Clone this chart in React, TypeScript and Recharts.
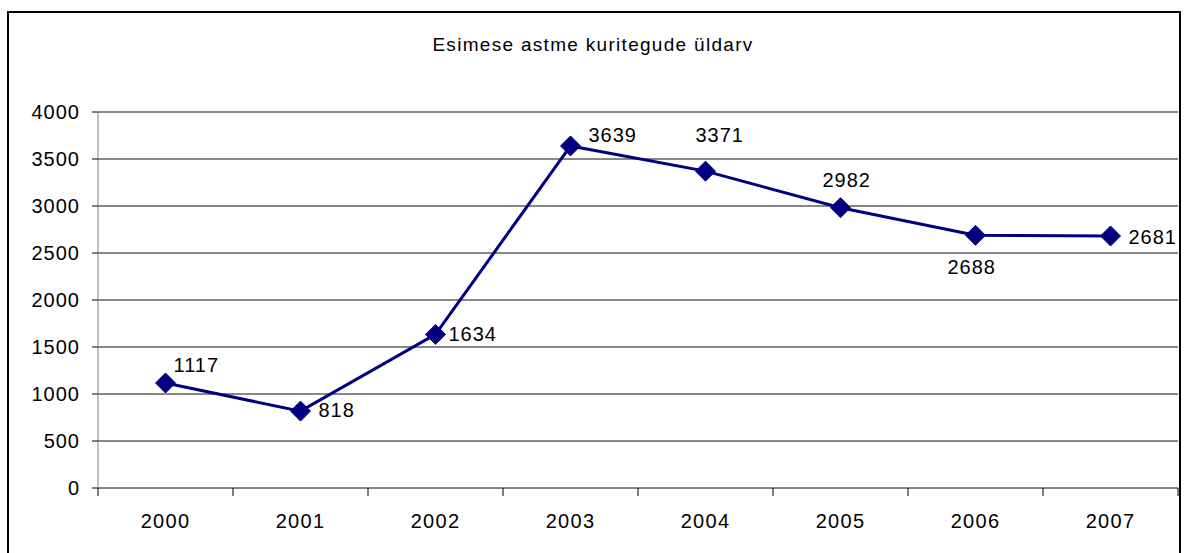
import { LineChart, Line, XAxis, YAxis, CartesianGrid, LabelList } from 'recharts';

const years = ['2000', '2001', '2002', '2003', '2004', '2005', '2006', '2007'];
const crimes = [1117, 818, 1634, 3639, 3371, 2982, 2688, 2681];
const yTicks = [0, 500, 1000, 1500, 2000, 2500, 3000, 3500, 4000];

const data = years.map((year, i) => ({ year, value: crimes[i] }));

// where each value label sits relative to its marker (text start, baseline)
const labelOffsets = [
  [8, -11],
  [18, 6],
  [13, 7],
  [18, -4],
  [-10, -29],
  [-18, -21],
  [-28, 39],
  [18, 8],
];

const FONT = '"Liberation Sans", Arial, sans-serif';
const NAVY = '#000080';

const Diamond = (props: any) => {
  const { cx, cy, index } = props;
  const r = 10;
  return (
    <polygon
      key={`dot-${index}`}
      points={`${cx},${cy - r} ${cx + r},${cy} ${cx},${cy + r} ${cx - r},${cy}`}
      fill={NAVY}
      stroke={NAVY}
    />
  );
};

const YearTick = (props: any) => {
  const { x, y, payload, index, width, visibleTicksCount } = props;
  const band = width / visibleTicksCount;
  return (
    <g>
      <line x1={x - band / 2} y1={y} x2={x - band / 2} y2={y + 8} stroke="#000" />
      {index === visibleTicksCount - 1 && (
        <line x1={x + band / 2} y1={y} x2={x + band / 2} y2={y + 8} stroke="#000" />
      )}
      <text x={x} y={y + 40} textAnchor="middle" fontSize={20} letterSpacing={1.3} fill="#000" fontFamily={FONT}>
        {payload.value}
      </text>
    </g>
  );
};

const ValueLabel = (props: any) => {
  const { x, y, value, index } = props;
  const [dx, dy] = labelOffsets[index] || [10, -10];
  return (
    <text x={x + dx} y={y + dy} fontSize={20} letterSpacing={1} fill="#000" fontFamily={FONT}>
      {value}
    </text>
  );
};

export default function App() {
  return (
    <div style={{ position: 'absolute', left: 0, top: 0, width: 1185, height: 553, background: '#fff', overflow: 'hidden', fontFamily: FONT }}>
      <div
        style={{
          position: 'absolute',
          left: 7,
          top: 11,
          width: 1170,
          height: 560,
          border: '2px solid #000',
        }}
      />
      <div
        style={{
          position: 'absolute',
          left: 8,
          top: 34,
          width: 1170,
          textAlign: 'center',
          fontSize: 19,
          letterSpacing: 1.3,
          color: '#000',
        }}
      >
        Esimese astme kuritegude üldarv
      </div>
      <div style={{ position: 'absolute', left: 0, top: 0 }}>
        <LineChart width={1185} height={553} data={data} margin={{ top: 112, right: 7, bottom: 0, left: 0 }}>
          <CartesianGrid vertical={false} stroke="#111" />
          <XAxis
            dataKey="year"
            scale="band"
            height={65}
            tickSize={0}
            tickMargin={0}
            tickLine={false}
            axisLine={{ stroke: '#808080' }}
            tick={<YearTick />}
            interval={0}
          />
          <YAxis
            domain={[0, 4000]}
            ticks={yTicks}
            width={98}
            tickSize={6}
            tickMargin={12}
            axisLine={{ stroke: '#808080' }}
            tickLine={{ stroke: '#000' }}
            tick={{ fill: '#000', fontSize: 20, letterSpacing: 1, fontFamily: FONT }}
          />
          <Line
            type="linear"
            dataKey="value"
            stroke={NAVY}
            strokeWidth={3}
            dot={<Diamond />}
            activeDot={false}
            isAnimationActive={false}
          >
            <LabelList dataKey="value" content={<ValueLabel />} />
          </Line>
        </LineChart>
      </div>
    </div>
  );
}
